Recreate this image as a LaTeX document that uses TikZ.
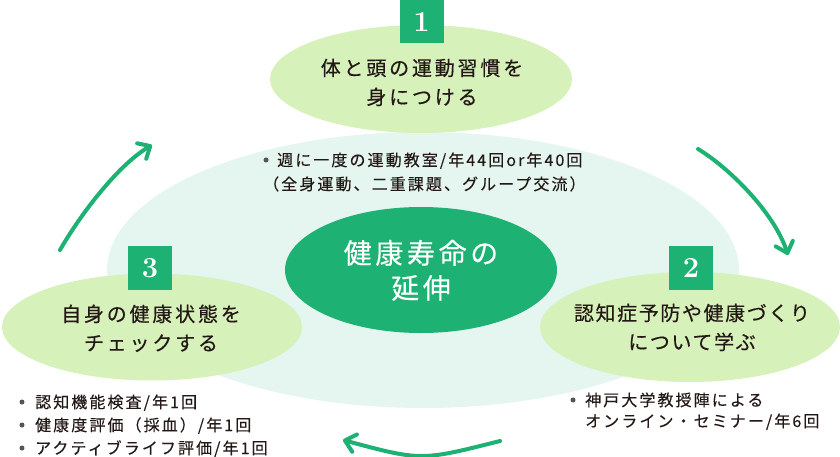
\documentclass[tikz,border=0pt]{standalone}
\usepackage{fontspec}
\usetikzlibrary{shapes.geometric,arrows.meta}
\newfontfamily\ttlfam[LetterSpace=14,FakeBold=0.3]{Noto Sans CJK JP}
\newfontfamily\ttlfamB[LetterSpace=8,FakeBold=0.3]{Noto Sans CJK JP}
\newfontfamily\bulfam[LetterSpace=13,FakeBold=0.2]{Noto Sans CJK JP}
\newfontfamily\ctrfam[LetterSpace=13,FakeBold=0.3]{Noto Sans CJK JP}
\definecolor{bgpale}{HTML}{E4F6EF}
\definecolor{limegr}{HTML}{D6F1B9}
\definecolor{dgreen}{HTML}{1DB273}
\definecolor{txt}{HTML}{231815}
\definecolor{bul}{HTML}{555555}
\tikzset{
  bgell/.style={ellipse, fill=bgpale, inner sep=0pt},
  limeell/.style={ellipse, fill=limegr, inner sep=0pt},
  ctrell/.style={ellipse, fill=dgreen, inner sep=0pt},
  numbox/.style={fill=dgreen, minimum size=44pt, inner sep=0pt, text=white,
    font=\fontsize{29}{29}\selectfont\bfseries},
  ttl/.style={anchor=base, inner sep=0pt, text=txt, font=\ttlfam\fontsize{20}{24}\selectfont},
  ttlB/.style={anchor=base, inner sep=0pt, text=txt, font=\ttlfamB\fontsize{20}{24}\selectfont},
  ctr/.style={anchor=base, inner sep=0pt, text=white, font=\ctrfam\fontsize{28}{32}\selectfont},
  bl/.style={anchor=base west, inner sep=0pt, text=txt, font=\bulfam\fontsize{16}{19}\selectfont},
  bdot/.style={circle, fill=bul, minimum size=5pt, inner sep=0pt},
  arr/.style={draw=dgreen, line width=4pt, line cap=round,
    -{Straight Barb[length=10pt,width=18pt,line cap=round,line join=round]}}
}
\begin{document}
\begin{tikzpicture}[x=1pt,y=-1pt]
\useasboundingbox (0,0) rectangle (840,457);
% background ellipse
\node[bgell, minimum width=632pt, minimum height=276pt] (bg) at (423,270) {};
% center
\node[ctrell, minimum width=272pt, minimum height=126pt] (ctr) at (421,270) {};
\node[ctr] (c1) at (421,263.5) {健康寿命の};
\node[ctr] (c2) at (421,298.5) {延伸};
% step ellipses
\node[limeell, minimum width=302pt, minimum height=108pt] (e1) at (421,79) {};
\node[limeell, minimum width=300pt, minimum height=107pt] (e3) at (152,327) {};
\node[limeell, minimum width=300pt, minimum height=110pt] (e2) at (690,327) {};
% number boxes
\node[numbox] (n1) at (421.5,21.5) {1};
\node[numbox] (n3) at (150,268) {3};
\node[numbox] (n2) at (691,268) {2};
% titles
\node[ttl] (t1a) at (422,75.5) {体と頭の運動習慣を};
\node[ttl] (t1b) at (422,104.5) {身につける};
\node[ttl] (t3a) at (151,321.5) {自身の健康状態を};
\node[ttl] (t3b) at (151,350.5) {チェックする};
\node[ttlB] (t2a) at (692,320.5) {認知症予防や健康づくり};
\node[ttlB] (t2b) at (692,349.5) {について学ぶ};
% bullets top
\node[bdot] (d1) at (266,160) {};
\node[bl] (b1a) at (277,166) {週に一度の運動教室/年44回or年40回};
\node[bl] (b1b) at (263,190) {（全身運動、二重課題、グループ交流）};
% bullets left
\node[bdot] (d3a) at (22,402) {};
\node[bl] (b3a) at (35,408) {認知機能検査/年1回};
\node[bdot] (d3b) at (22,425) {};
\node[bl] (b3b) at (35,431) {健康度評価（採血）/年1回};
\node[bdot] (d3c) at (22,448) {};
\node[bl] (b3c) at (35,454) {アクティブライフ評価/年1回};
% bullets right
\node[bdot] (d2) at (573,400) {};
\node[bl] (b2a) at (585,406) {神戸大学教授陣による};
\node[bl] (b2b) at (585,427) {オンライン・セミナー/年6回};
% arrows
\coordinate (a1s) at (60,250);
\coordinate (a1e) at (152,145);
\coordinate (a2s) at (698,149);
\coordinate (a2e) at (788,255);
\coordinate (a3s) at (500,441);
\coordinate (a3e) at (343,440);
\draw[arr] (a1s) .. controls (80,215) and (118,165) .. (a1e);
\draw[arr] (a2s) .. controls (728,167) and (774,212) .. (a2e);
\draw[arr] (a3s) .. controls (421,461) .. (a3e);
\end{tikzpicture}
\end{document}
